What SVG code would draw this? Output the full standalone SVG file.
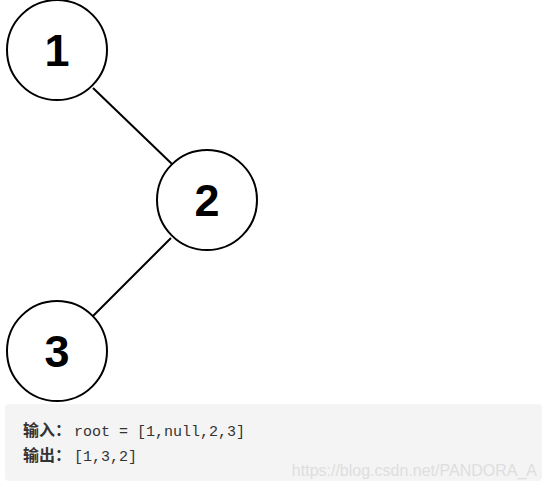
<svg xmlns="http://www.w3.org/2000/svg" width="547" height="489" viewBox="0 0 547 489">
<style>
.node circle{fill:#fff;stroke:#000;stroke-width:2}
.node text{font-family:"Liberation Sans",Arial,sans-serif;font-weight:bold;font-size:45px;text-anchor:middle;fill:#000}
.edge{stroke:#000;stroke-width:2}
.cn{font-family:"Noto Sans CJK SC",sans-serif;font-weight:bold;font-size:16px;fill:#333}
.mono{font-family:"Liberation Mono",monospace;font-size:15px;fill:#333}
</style>
<rect width="547" height="489" fill="#fff"/>
<g id="connectors">
<line class="edge" x1="93" y1="88" x2="172" y2="164"/>
<line class="edge" x1="171" y1="238" x2="93" y2="316"/>
</g>
<g id="node1" class="node"><circle cx="57" cy="50" r="50"/><text x="57" y="66">1</text></g>
<g id="node2" class="node"><circle cx="207" cy="200" r="50"/><text x="207" y="216">2</text></g>
<g id="node3" class="node"><circle cx="57" cy="351" r="50"/><text x="57" y="367">3</text></g>
<g id="codebox">
<rect x="5" y="404" width="537" height="77" rx="4" fill="#f4f4f4"/>
<text y="436"><tspan class="cn" x="23">输入：</tspan><tspan class="mono" x="74">root = [1,null,2,3]</tspan></text>
<text y="461"><tspan class="cn" x="23">输出：</tspan><tspan class="mono" x="74">[1,3,2]</tspan></text>
<text x="537" y="476" text-anchor="end" font-family="Liberation Sans,Arial,sans-serif" font-size="16" fill="#dedede">https://blog.csdn.net/PANDORA_A</text>
</g>
</svg>
